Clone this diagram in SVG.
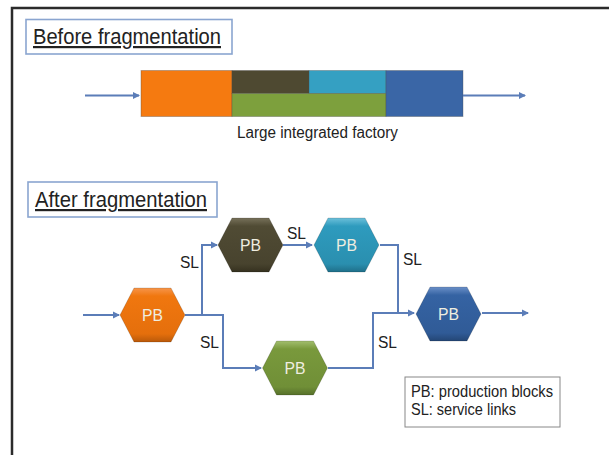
<svg xmlns="http://www.w3.org/2000/svg" xmlns:xlink="http://www.w3.org/1999/xlink" width="609" height="455" viewBox="0 0 609 455">
<style>
text{font-family:"Liberation Sans",Arial,sans-serif;}
.title{font-size:22px;fill:#222;text-decoration:underline;}
.tbox{fill:#fff;stroke:#8AA5D0;stroke-width:1.6;}
.lbl{font-size:16px;fill:#222;}
.pb{font-size:16px;fill:#EFEDE0;text-anchor:middle;}
.conn{fill:none;stroke:#5B7DB8;stroke-width:2;}
.seg{stroke:#4a4a4a;stroke-opacity:0.35;stroke-width:1;}
.hex{stroke:#000;stroke-opacity:0.15;stroke-width:1;}
</style>
<defs>
<marker id="arr" markerWidth="8" markerHeight="8" refX="6" refY="4" orient="auto" markerUnits="userSpaceOnUse">
<path d="M0,0.5 L7,4 L0,7.5 Z" fill="#5B7DB8"/>
</marker>
<path id="hexp" d="M-32.5,0 L-18.5,-27 L18.5,-27 L32.5,0 L18.5,27 L-18.5,27 Z"/>
<linearGradient id="gOr" x1="0" y1="0" x2="0" y2="1"><stop offset="0" stop-color="#F7954A"/><stop offset="0.15" stop-color="#F0770F"/><stop offset="0.85" stop-color="#E56F0C"/><stop offset="1" stop-color="#B9590A"/></linearGradient>
<linearGradient id="gBr" x1="0" y1="0" x2="0" y2="1"><stop offset="0" stop-color="#77715A"/><stop offset="0.15" stop-color="#504B34"/><stop offset="0.85" stop-color="#48432E"/><stop offset="1" stop-color="#35311F"/></linearGradient>
<linearGradient id="gTe" x1="0" y1="0" x2="0" y2="1"><stop offset="0" stop-color="#6CC0DA"/><stop offset="0.15" stop-color="#2E9BBE"/><stop offset="0.85" stop-color="#2A8FAF"/><stop offset="1" stop-color="#1F6F89"/></linearGradient>
<linearGradient id="gGr" x1="0" y1="0" x2="0" y2="1"><stop offset="0" stop-color="#A2BE6E"/><stop offset="0.15" stop-color="#79993C"/><stop offset="0.85" stop-color="#708F37"/><stop offset="1" stop-color="#56702A"/></linearGradient>
<linearGradient id="gBl" x1="0" y1="0" x2="0" y2="1"><stop offset="0" stop-color="#6B90C8"/><stop offset="0.15" stop-color="#3563A3"/><stop offset="0.85" stop-color="#305B97"/><stop offset="1" stop-color="#244675"/></linearGradient>
</defs>
<rect width="609" height="455" fill="#fff"/>
<path d="M12,455 V8 H609" fill="none" stroke="#2b2b2b" stroke-width="2.5"/>

<g id="before-title">
<rect class="tbox" x="26" y="19.5" width="206" height="34.5"/>
<text class="title" x="33" y="44" textLength="188" lengthAdjust="spacingAndGlyphs">Before fragmentation</text>
</g>

<g id="factory">
<rect class="seg" x="141" y="70.5" width="91" height="46" fill="#F57A10"/>
<rect class="seg" x="232" y="70.5" width="77" height="23" fill="#4E4931"/>
<rect class="seg" x="309" y="70.5" width="77" height="23" fill="#35A0C2"/>
<rect class="seg" x="232" y="93.5" width="154" height="23" fill="#7DA03D"/>
<rect class="seg" x="386" y="70.5" width="77" height="46" fill="#3A66A6"/>
<text class="lbl" x="237" y="138" font-size="16.5" textLength="161" lengthAdjust="spacingAndGlyphs">Large integrated factory</text>
</g>

<g id="after-title">
<rect class="tbox" x="28" y="182" width="189" height="35"/>
<text class="title" x="35" y="207" textLength="172" lengthAdjust="spacingAndGlyphs">After fragmentation</text>
</g>

<g id="connectors">
<path class="conn" d="M85,95.5 H139" marker-end="url(#arr)"/>
<path class="conn" d="M463,95.5 H525" marker-end="url(#arr)"/>
<path class="conn" d="M83,315 H119" marker-end="url(#arr)"/>
<path class="conn" d="M185,315 H202 V245 H217" marker-end="url(#arr)"/>
<path class="conn" d="M185,315 H223 V368 H261" marker-end="url(#arr)"/>
<path class="conn" d="M283,245 H312" marker-end="url(#arr)"/>
<path class="conn" d="M380,245 H398 V313 H414" marker-end="url(#arr)"/>
<path class="conn" d="M328,368 H373 V313 H398"/>
<path class="conn" d="M482,313 H528" marker-end="url(#arr)"/>
<text class="lbl" x="180" y="268" textLength="19" lengthAdjust="spacingAndGlyphs">SL</text>
<text class="lbl" x="287" y="239" textLength="19" lengthAdjust="spacingAndGlyphs">SL</text>
<text class="lbl" x="200" y="348" textLength="19" lengthAdjust="spacingAndGlyphs">SL</text>
<text class="lbl" x="403" y="265" textLength="19" lengthAdjust="spacingAndGlyphs">SL</text>
<text class="lbl" x="378" y="348" textLength="19" lengthAdjust="spacingAndGlyphs">SL</text>
</g>

<g id="pb-orange">
<use class="hex" xlink:href="#hexp" href="#hexp" transform="translate(152.5,315)" fill="url(#gOr)"/>
<text class="pb" x="152.5" y="321" textLength="21" lengthAdjust="spacingAndGlyphs">PB</text>
</g>
<g id="pb-brown">
<use class="hex" xlink:href="#hexp" href="#hexp" transform="translate(250.5,245)" fill="url(#gBr)"/>
<text class="pb" x="250.5" y="251" textLength="21" lengthAdjust="spacingAndGlyphs">PB</text>
</g>
<g id="pb-teal">
<use class="hex" xlink:href="#hexp" href="#hexp" transform="translate(346.5,245)" fill="url(#gTe)"/>
<text class="pb" x="346.5" y="251" textLength="21" lengthAdjust="spacingAndGlyphs">PB</text>
</g>
<g id="pb-green">
<use class="hex" xlink:href="#hexp" href="#hexp" transform="translate(295,368)" fill="url(#gGr)"/>
<text class="pb" x="295" y="374" textLength="21" lengthAdjust="spacingAndGlyphs">PB</text>
</g>
<g id="pb-blue">
<use class="hex" xlink:href="#hexp" href="#hexp" transform="translate(448.5,314)" fill="url(#gBl)"/>
<text class="pb" x="448.5" y="320" textLength="21" lengthAdjust="spacingAndGlyphs">PB</text>
</g>

<g id="legend">
<rect x="405" y="377" width="155" height="50" fill="#fff" stroke="#888" stroke-width="1"/>
<text class="lbl" x="411" y="397" textLength="142" lengthAdjust="spacingAndGlyphs">PB: production blocks</text>
<text class="lbl" x="411" y="415" textLength="105" lengthAdjust="spacingAndGlyphs">SL: service links</text>
</g>
</svg>
